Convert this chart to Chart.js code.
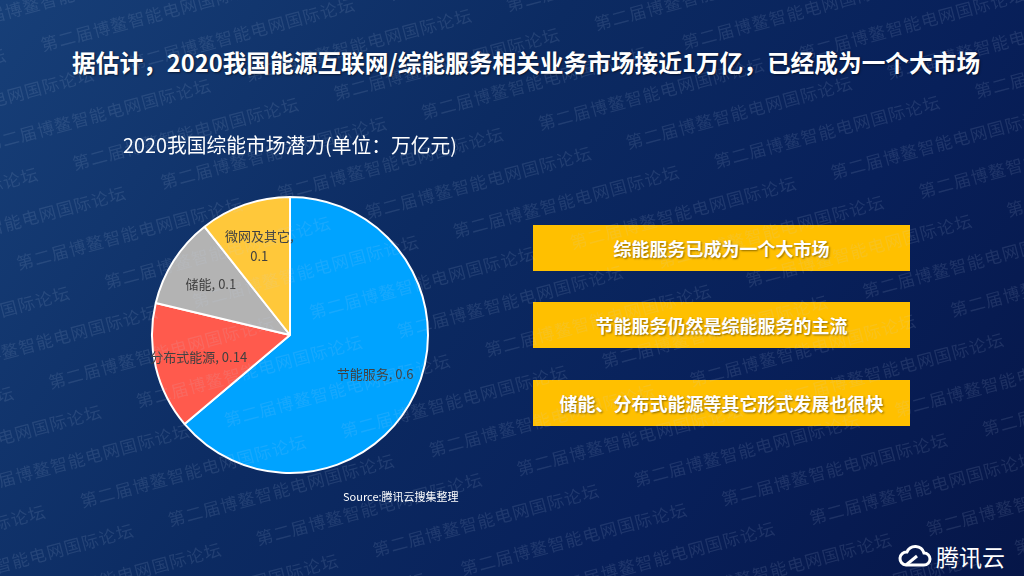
<!DOCTYPE html>
<html>
<head>
<meta charset="utf-8">
<script src="https://cdn.jsdelivr.net/npm/chart.js@4"></script>
<style>
  html, body { margin: 0; padding: 0; }
  body {
    width: 1024px; height: 576px; overflow: hidden; position: relative;
    background: linear-gradient(125deg, #173f78 0%, #0c2b62 40%, #08205a 70%, #061648 100%);
    font-family: "Noto Sans CJK SC", "Noto Sans", sans-serif;
  }
  #title {
    position: absolute; left: 72px; top: 45px; color: #fff;
    font-size: 23.7px; font-weight: bold; white-space: nowrap;
    text-shadow: 1px 1px 2px rgba(0,0,0,0.5);
  }
  #chartBox { position: absolute; left: 113px; top: 130px; width: 380px; height: 360px; }
  .box {
    position: absolute; left: 533px; width: 377px; height: 46px; background: #ffc000;
    color: #fff; font-size: 18px; font-weight: bold; text-align: center; line-height: 46px;
    text-shadow: 1px 1px 2px rgba(0,0,0,0.45);
  }
  #source { position: absolute; left: 343px; top: 488px; color: #fff; font-size: 11px; white-space: nowrap; }
  #logo { position: absolute; left: 897px; top: 539px; color: #fff; font-size: 23px; display: flex; align-items: center; }
  #logo svg { margin-right: 3px; }
  #wm {
    position: absolute; left: -500px; top: -500px; width: 2024px; height: 1576px;
    transform: rotate(-15deg); pointer-events: none; overflow: hidden;
  }
  #wm div {
    white-space: nowrap; color: rgba(200,210,235,0.12); font-size: 17px;
    height: 41px; line-height: 41px; letter-spacing: 1px;
  }
</style>
</head>
<body>
<div id="title">据估计，2020我国能源互联网/综能服务相关业务市场接近1万亿，已经成为一个大市场</div>
<div id="chartBox"><canvas id="pie"></canvas></div>
<div class="box" style="top:225px">综能服务已成为一个大市场</div>
<div class="box" style="top:302px">节能服务仍然是综能服务的主流</div>
<div class="box" style="top:380px">储能、分布式能源等其它形式发展也很快</div>
<div id="source">Source:腾讯云搜集整理</div>
<div id="logo">
  <svg width="36" height="24" viewBox="0 0 36 24">
    <path d="M9 21 H27 A6 6 0 0 0 27 9 A9 9 0 0 0 10 8 A6.5 6.5 0 0 0 9 21 Z" fill="none" stroke="#fff" stroke-width="3"/>
    <path d="M9 21 L20 12" stroke="#fff" stroke-width="3"/>
  </svg>
  <span>腾讯云</span>
</div>
<div id="wm"></div>
<script>
const categories = ["节能服务", "分布式能源", "储能", "微网及其它"];
const values = [0.6, 0.14, 0.1, 0.1];
const colors = ["#00a3ff", "#ff5a4d", "#b3b3b3", "#ffc83a"];
const chartTitle = "2020我国综能市场潜力(单位：万亿元)";

// faint watermark rows
const wmText = "第二届博鳌智能电网国际论坛";
const wm = document.getElementById("wm");
for (let i = 0; i < 38; i++) {
  const row = document.createElement("div");
  row.style.paddingLeft = ((i % 3) * 80) + "px";
  row.textContent = (wmText + "\u3000\u3000").repeat(8);
  wm.appendChild(row);
}

// draws "category, value" inside each slice
const sliceLabels = {
  id: "sliceLabels",
  afterDatasetsDraw(chart) {
    const ctx = chart.ctx;
    const meta = chart.getDatasetMeta(0);
    const total = values.reduce((a, b) => a + b, 0);
    ctx.save();
    ctx.font = "13px 'Noto Sans CJK SC'";
    ctx.fillStyle = "#404040";
    ctx.textAlign = "center";
    ctx.textBaseline = "middle";
    meta.data.forEach((arc, i) => {
      const mid = (arc.startAngle + arc.endAngle) / 2;
      const r = arc.outerRadius * 0.68;
      const x = arc.x + Math.cos(mid) * r;
      const y = arc.y + Math.sin(mid) * r;
      const text = categories[i] + ", " + values[i];
      if (values[i] / total < 0.12 && ctx.measureText(text).width > 60) {
        ctx.fillText(categories[i] + ",", x, y - 10);
        ctx.fillText(String(values[i]), x, y + 10);
      } else {
        ctx.fillText(text, x, y);
      }
    });
    ctx.restore();
  }
};

new Chart(document.getElementById("pie"), {
  type: "pie",
  data: {
    labels: categories,
    datasets: [{
      data: values,
      backgroundColor: colors,
      borderColor: "#ffffff",
      borderWidth: 2
    }]
  },
  options: {
    responsive: true,
    maintainAspectRatio: false,
    animation: false,
    layout: { padding: { left: 10, right: 36, top: 0, bottom: 16 } },
    plugins: {
      legend: { display: false },
      tooltip: { enabled: false },
      title: {
        display: true,
        text: chartTitle,
        align: "start",
        color: "#ffffff",
        font: { family: "'Noto Sans CJK SC'", size: 20, weight: "normal", lineHeight: 1.2 },
        padding: { top: 3, bottom: 39 }
      }
    }
  },
  plugins: [sliceLabels]
});
</script>
</body>
</html>
